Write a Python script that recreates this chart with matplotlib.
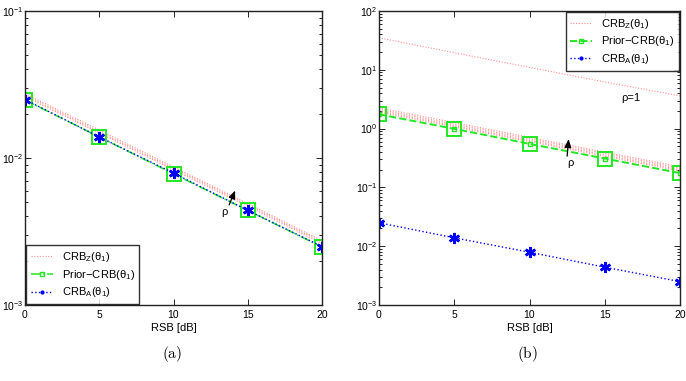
import matplotlib
matplotlib.use("Agg")
import matplotlib.pyplot as plt
from matplotlib.ticker import LogLocator, NullFormatter

plt.rcParams['font.family'] = ['Liberation Sans', 'DejaVu Sans']
plt.rcParams['mathtext.fontset'] = 'cm'
plt.rcParams['mathtext.default'] = 'regular'

# ---------------- data ----------------
rsb = [0, 5, 10, 15, 20]
xticks = [0, 5, 10, 15, 20]

# panel (a)
crb_a_left = [0.025, 0.0139, 0.0079, 0.0044, 0.0025]
prior_left = [0.0248, 0.0139, 0.0078, 0.0044, 0.00248]
crbz_left = [
    [0.0262, 0.0148, 0.0083, 0.0047, 0.00262],
    [0.0268, 0.0151, 0.0085, 0.0048, 0.00268],
    [0.0274, 0.0155, 0.0087, 0.0049, 0.00274],
]

# panel (b)
crbz_right_rho1 = [35.0, 19.5, 11.0, 6.2, 3.6]
crbz_right = [
    [2.25, 1.27, 0.71, 0.40, 0.225],
    [2.12, 1.19, 0.67, 0.38, 0.212],
    [2.00, 1.12, 0.63, 0.356, 0.200],
    [1.90, 1.07, 0.60, 0.338, 0.190],
]
prior_right = [1.75, 0.99, 0.55, 0.31, 0.175]
crb_a_right = [0.025, 0.0139, 0.0079, 0.0044, 0.0025]

PINK = '#ff8f8f'
GREEN = '#22e822'
BLUE = '#0000ff'

fig = plt.figure(figsize=(6.86, 3.81), dpi=100)
axL = fig.add_axes([25/686, 1-305/381, 297/686, 294/381])
axR = fig.add_axes([379/686, 1-305/381, 301/686, 294/381])


def style_axis(ax, ylim):
    ax.set_yscale('log')
    ax.set_xlim(0, 20)
    ax.set_ylim(*ylim)
    ax.set_xticks(xticks)
    ax.yaxis.set_major_locator(LogLocator(base=10, numticks=10))
    ax.yaxis.set_minor_locator(LogLocator(base=10, subs=range(2, 10), numticks=20))
    ax.yaxis.set_minor_formatter(NullFormatter())
    ax.tick_params(which='both', direction='in', top=True, right=True, labelsize=7.5, width=0.6)
    ax.tick_params(axis='y', which='both', pad=1)
    ax.tick_params(which='major', length=4)
    ax.tick_params(which='minor', length=2)
    for s in ax.spines.values():
        s.set_linewidth(1.0)
        s.set_color('#222222')
    ax.set_xlabel('RSB [dB]', fontsize=8, labelpad=2)


arrow_kw = dict(arrowstyle='-|>,head_length=0.6,head_width=0.25', color='black',
                lw=0.9, mutation_scale=8, shrinkA=0, shrinkB=0)

# ---- panel (a)
for i, ys in enumerate(crbz_left):
    axL.plot(rsb, ys, color=PINK, ls=(0, (1, 1.5)), lw=0.8,
             label='CRB$_Z$(θ$_1$)' if i == 0 else None)
axL.plot(rsb, prior_left, color=GREEN, ls='-.', lw=1.1, marker='s', ms=3,
         mfc='none', mec=GREEN, label='Prior−CRB(θ$_1$)')
axL.plot(rsb, prior_left, ls='none', marker='s', ms=10, mfc='none', mec=GREEN, mew=1.4)
axL.plot(rsb, crb_a_left, color=BLUE, ls=':', lw=1.0, marker=(6, 2, 0), ms=8, mew=1.8,
         mec=BLUE, mfc=BLUE)
axL.plot([], [], color=BLUE, ls=':', lw=1.0, marker='.', ms=4, label='CRB$_A$(θ$_1$)')
style_axis(axL, (1e-3, 1e-1))
axL.annotate('', xy=(14.15, 0.0060), xytext=(13.75, 0.0048), arrowprops=arrow_kw)
axL.text(13.4, 0.0043, 'ρ', fontsize=8, ha='center', va='center')
legL = axL.legend(loc='lower left', fontsize=8, frameon=True, fancybox=False,
                  edgecolor='black', handlelength=2.0, borderpad=0.4, labelspacing=0.35,
                  borderaxespad=0.1)
legL.get_frame().set_linewidth(1.0)

# ---- panel (b)
axR.plot(rsb, crbz_right_rho1, color=PINK, ls=(0, (1, 1.5)), lw=0.8,
         label='CRB$_Z$(θ$_1$)')
for ys in crbz_right:
    axR.plot(rsb, ys, color=PINK, ls=(0, (1, 1.5)), lw=0.8)
axR.plot(rsb, prior_right, color=GREEN, ls='--', lw=1.4, marker='s', ms=3,
         mfc='none', mec=GREEN, label='Prior−CRB(θ$_1$)')
axR.plot(rsb, prior_right, ls='none', marker='s', ms=10, mfc='none', mec=GREEN, mew=1.4)
axR.plot(rsb, crb_a_right, color=BLUE, ls=':', lw=1.0, marker=(6, 2, 0), ms=8, mew=1.8,
         mec=BLUE, mfc=BLUE)
axR.plot([], [], color=BLUE, ls=':', lw=1.0, marker='.', ms=4, label='CRB$_A$(θ$_1$)')
style_axis(axR, (1e-3, 1e2))
axR.annotate('', xy=(12.6, 0.66), xytext=(12.5, 0.34), arrowprops=arrow_kw)
axR.text(12.75, 0.26, 'ρ', fontsize=8, ha='center', va='center')
axR.text(16.7, 3.3, 'ρ=1', fontsize=8, ha='center', va='center')
legR = axR.legend(loc='upper right', fontsize=8, frameon=True, fancybox=False,
                  edgecolor='black', handlelength=2.0, borderpad=0.4, labelspacing=0.35,
                  borderaxespad=0.1)
legR.get_frame().set_linewidth(1.0)

# captions
fig.text(172/686, 1-354/381, r'$\mathrm{(a)}$', fontsize=11, ha='center', va='center')
fig.text(527/686, 1-354/381, r'$\mathrm{(b)}$', fontsize=11, ha='center', va='center')

fig.savefig('out.png', dpi=100)
